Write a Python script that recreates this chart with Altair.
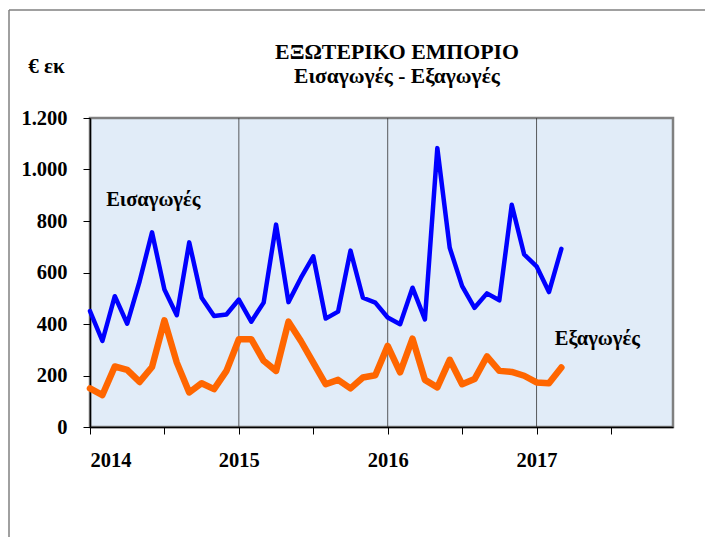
import altair as alt
import pandas as pd

# Monthly values, Jan 2014 - Mar 2017 (million €)
imports = [450, 334, 508, 401, 566, 756, 534, 434, 717, 502, 431, 437,
           495, 409, 483, 786, 485, 579, 663, 421, 448, 685, 502, 483,
           425, 399, 541, 418, 1083, 696, 547, 463, 519, 492, 863, 670,
           624, 524, 692]
exports = [150, 124, 235, 222, 175, 233, 414, 250, 134, 170, 147, 218,
           341, 341, 257, 218, 409, 334, 250, 166, 183, 150, 192, 201,
           315, 212, 343, 183, 154, 261, 166, 186, 274, 218, 214, 199,
           173, 170, 231]
series_names = ["Εισαγωγές", "Εξαγωγές"]
series_colors = ["#0000FF", "#FF6600"]
year_lines = [12, 24, 36]
label_pos = {"Εισαγωγές": (5.1, 880), "Εξαγωγές": (40.9, 342)}
title_lines = ["ΕΞΩΤΕΡΙΚΟ ΕΜΠΟΡΙΟ", "Εισαγωγές - Εξαγωγές"]

rows = []
for i, v in enumerate(imports):
    rows.append({"m": i, "v": v, "s": series_names[0]})
for i, v in enumerate(exports):
    rows.append({"m": i, "v": v, "s": series_names[1]})
df = pd.DataFrame(rows)

FONT = "Liberation Serif, DejaVu Serif, serif"

x_enc = alt.X(
    "m:Q",
    scale=alt.Scale(domain=[0, 47], nice=False, zero=False),
    axis=alt.Axis(
        values=list(range(0, 48, 6)),
        labelExpr="datum.value % 12 == 0 ? toString(2014 + datum.value / 12) : ''",
        grid=False, tickSize=7, tickColor="black", domainColor="black",
        domainWidth=1.5, labelPadding=16, labelFont=FONT, labelFontSize=20.5,
        labelFontWeight="bold", labelColor="black", title=None,
    ),
)
y_enc = alt.Y(
    "v:Q",
    scale=alt.Scale(domain=[0, 1200], nice=False),
    axis=alt.Axis(
        values=list(range(0, 1201, 200)),
        labelExpr="replace(format(datum.value, ','), ',', '.')",
        grid=False, tickSize=7, tickColor="black", domainColor="black",
        domainWidth=1.5, labelPadding=16, labelFont=FONT, labelFontSize=20.5,
        labelFontWeight="bold", labelColor="black",
        title="€ εκ", titleAngle=0, titleFont=FONT, titleFontSize=21,
        titleFontWeight="bold", titleColor="black", titleX=-44, titleY=-52,
        titleAlign="center", titleBaseline="middle",
    ),
)

grid = alt.Chart(pd.DataFrame({"m": year_lines})).mark_rule(
    color="#333333", strokeWidth=0.8
).encode(x=alt.X("m:Q", scale=alt.Scale(domain=[0, 47], nice=False, zero=False)))

lines = alt.Chart(df).mark_line(strokeJoin="round", strokeCap="round").encode(
    x=x_enc,
    y=y_enc,
    color=alt.Color("s:N", scale=alt.Scale(domain=series_names, range=series_colors), legend=None),
    strokeWidth=alt.StrokeWidth("s:N", scale=alt.Scale(domain=series_names, range=[4.5, 6.5]), legend=None),
)

lab_df = pd.DataFrame([{"s": k, "m": p[0], "v": p[1]} for k, p in label_pos.items()])
labels = alt.Chart(lab_df).mark_text(
    font=FONT, fontSize=20.5, fontWeight="bold", color="black", align="center", baseline="middle"
).encode(x=alt.X("m:Q"), y=alt.Y("v:Q"), text="s:N")

title_main = alt.Chart(pd.DataFrame({"t": [title_lines[0]]})).mark_text(
    font=FONT, fontSize=21.8, fontWeight="bold", color="black", align="center", baseline="middle"
).encode(x=alt.value(307), y=alt.value(-66), text="t:N")
title_sub = alt.Chart(pd.DataFrame({"t": [title_lines[1]]})).mark_text(
    font=FONT, fontSize=21.5, fontWeight="bold", color="black", align="center", baseline="middle"
).encode(x=alt.value(307), y=alt.value(-41), text="t:N")

border = alt.Chart(pd.DataFrame({"a": [0]})).mark_rule(color="#808080", strokeWidth=1.5).encode(
    x=alt.value(-81), x2=alt.value(640), y=alt.value(-108), y2=alt.value(-108)
)
border2 = alt.Chart(pd.DataFrame({"a": [0]})).mark_rule(color="#808080", strokeWidth=1.5).encode(
    x=alt.value(-81), y=alt.value(-108), y2=alt.value(440)
)

chart = alt.layer(grid, lines, labels, title_main, title_sub, border, border2).properties(
    width=583,
    height=309,
    autosize=alt.AutoSizeParams(type="none"),
    padding={"left": 82, "top": 110, "right": 32, "bottom": 110},
    background="white",
).configure_view(
    fill="#e1ecf8", stroke="#808080", strokeWidth=2.5
)

chart.save("out.html", embed_options={"renderer": "svg", "actions": False})
